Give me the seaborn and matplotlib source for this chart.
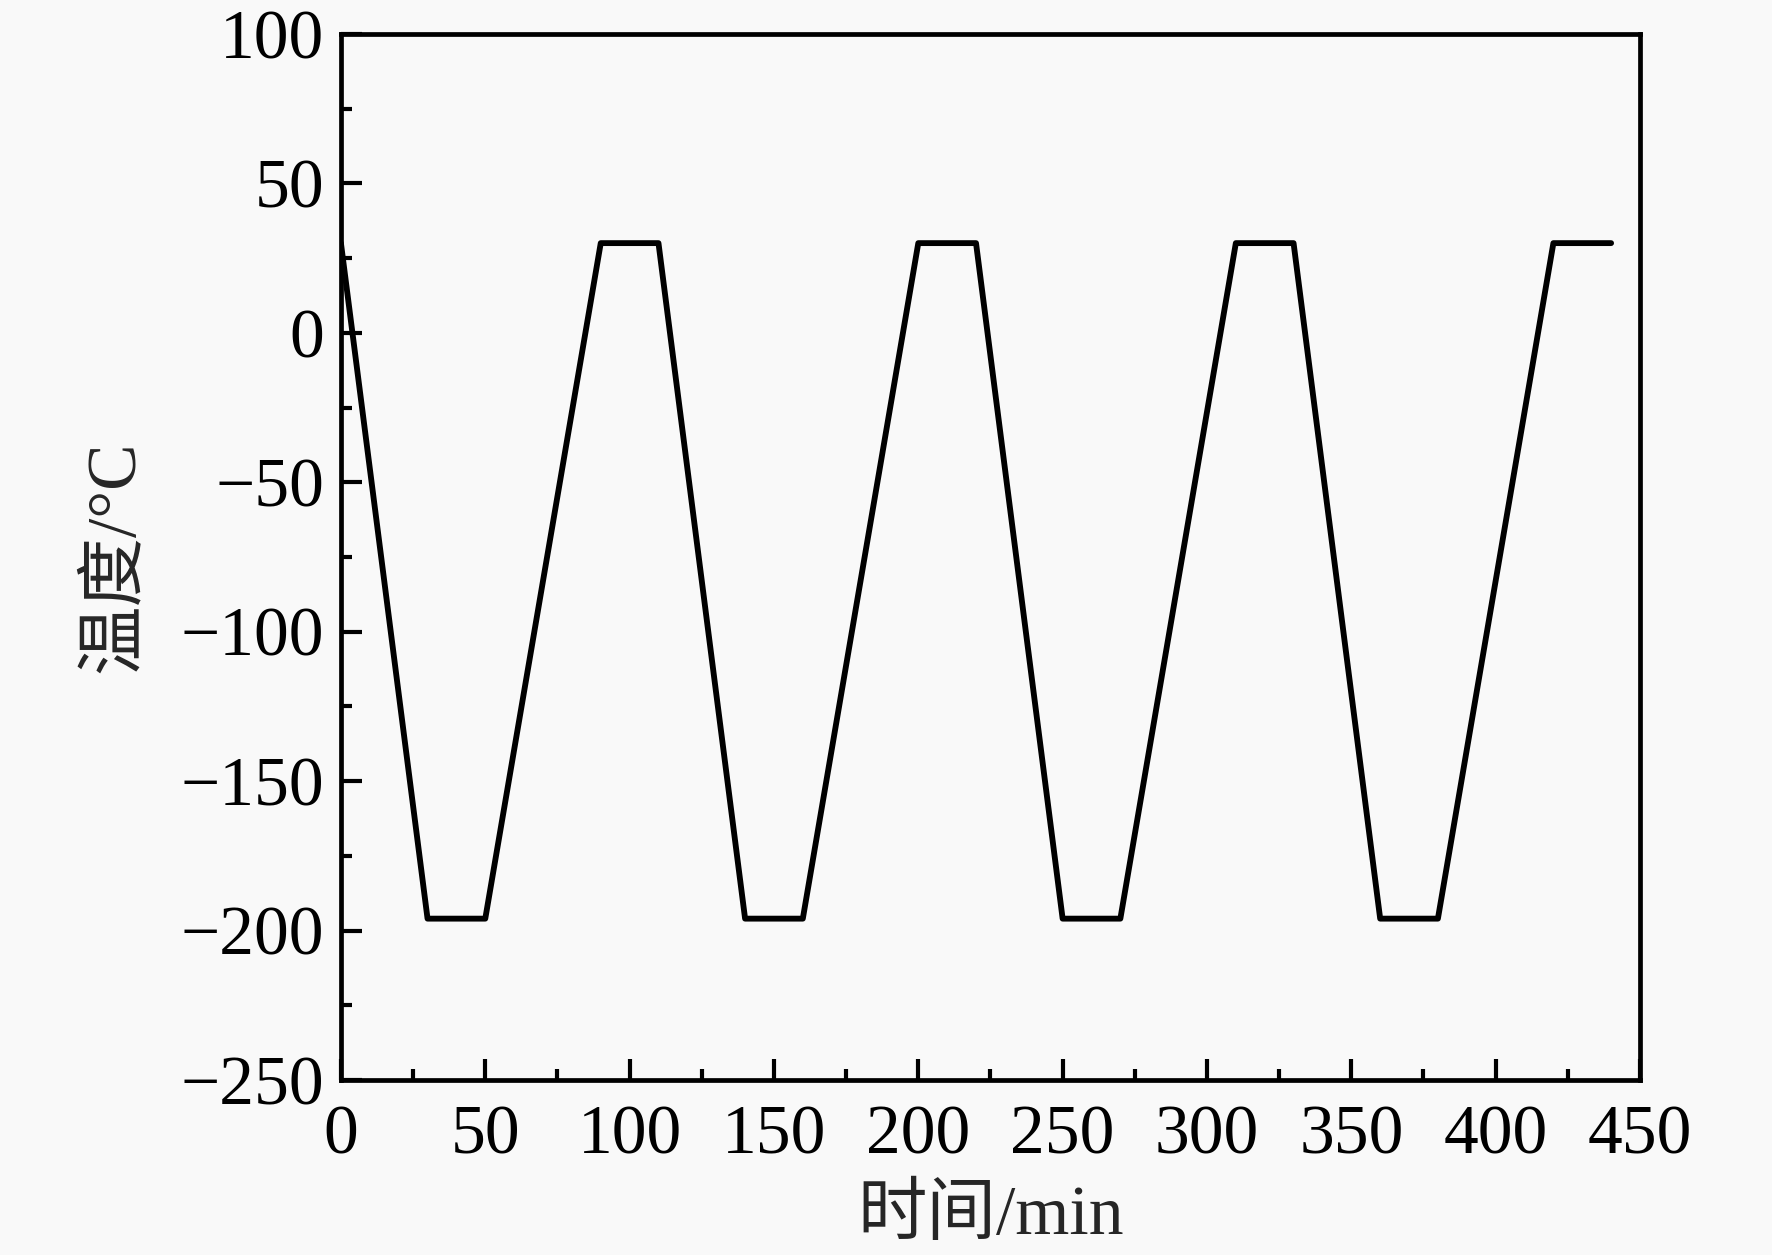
import matplotlib
matplotlib.use("Agg")
import matplotlib.pyplot as plt
import pandas as pd
import seaborn as sns
from matplotlib.ticker import MultipleLocator

# Dados: ciclo térmico (tempo em min, temperatura em °C)
tempo_min = [0, 30, 50, 90, 110, 140, 160, 200, 220, 250, 270, 310, 330, 360, 380, 420, 440]
temperatura_c = [30, -196, -196, 30, 30, -196, -196, 30, 30, -196, -196, 30, 30, -196, -196, 30, 30]

x_ticks = [0, 50, 100, 150, 200, 250, 300, 350, 400, 450]
y_ticks = [-250, -200, -150, -100, -50, 0, 50, 100]

sns.set_theme(style="ticks")
plt.rcParams["font.family"] = ["Liberation Serif", "Noto Sans CJK SC"]
plt.rcParams["axes.unicode_minus"] = True

df = pd.DataFrame({"tempo": tempo_min, "temp": temperatura_c})

fig = plt.figure(figsize=(8.86, 6.275), dpi=200, facecolor="#f9f9f9")
ax = fig.add_axes([0.1924, 0.1394, 0.7331, 0.8336])
ax.set_facecolor("#f9f9f9")

sns.lineplot(data=df, x="tempo", y="temp", estimator=None, sort=False,
             color="black", linewidth=2.1, ax=ax)

ax.set_xlim(0, 450)
ax.set_ylim(-250, 100)
ax.set_xticks(x_ticks)
ax.set_yticks(y_ticks)
ax.xaxis.set_minor_locator(MultipleLocator(25))
ax.yaxis.set_minor_locator(MultipleLocator(25))

ax.tick_params(which="both", direction="in", top=False, right=False,
               width=1.5, labelsize=25, colors="black")
ax.tick_params(which="major", length=7.5)
ax.tick_params(which="minor", length=4)
ax.tick_params(axis="x", which="major", pad=9)
ax.tick_params(axis="y", which="major", pad=6)

for sp in ax.spines.values():
    sp.set_linewidth(1.7)
    sp.set_color("black")

ax.set_xlabel("时间/min", fontsize=25, labelpad=6)
ax.set_ylabel("温度/°C", fontsize=25, labelpad=12)

fig.savefig("out.png", dpi=200, facecolor=fig.get_facecolor())
